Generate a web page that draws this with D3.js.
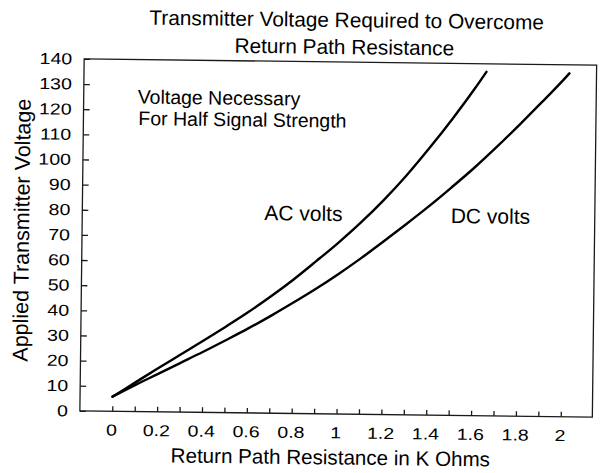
<!DOCTYPE html>
<html><head><meta charset="utf-8">
<script src="https://cdn.jsdelivr.net/npm/d3@7/dist/d3.min.js"></script>
<style>html,body{margin:0;padding:0;background:#fff;} svg{display:block}</style>
</head><body><svg id="c" width="602" height="473"></svg>
<script>
// ---------- data ----------
const titleLines = ["Transmitter Voltage Required to Overcome", "Return Path Resistance"];
const xTitle = "Return Path Resistance in K Ohms";
const yTitle = "Applied Transmitter Voltage";
const noteLines = ["Voltage Necessary", "For Half Signal Strength"];
const seriesLabels = ["AC volts", "DC volts"];

const xTickValues = [0,0.1,0.2,0.3,0.4,0.5,0.6,0.7,0.8,0.9,1.0,1.1,1.2,1.3,1.4,1.5,1.6,1.7,1.8,1.9,2.0];
const xTickLabels = ["0","","0.2","","0.4","","0.6","","0.8","","1","","1.2","","1.4","","1.6","","1.8","","2"];
const yTickValues = [0,10,20,30,40,50,60,70,80,90,100,110,120,130,140];

const acX = [0,0.1,0.2,0.3,0.4,0.5,0.6,0.7,0.8,0.9,1.0,1.1,1.2,1.3,1.4,1.5,1.6,1.65];
const acY = [5.8,11.5,17.2,22.8,28.4,34.1,40.0,46.4,53.2,60.6,68.2,76.4,85.4,95.3,106.2,117.8,130.2,136.8];
const dcX = [0,0.1,0.2,0.3,0.4,0.5,0.6,0.7,0.8,0.9,1.0,1.1,1.2,1.3,1.4,1.5,1.6,1.7,1.8,1.9,2.0,2.02];
const dcY = [5.8,10.5,15.0,19.5,24.0,28.7,33.5,38.6,44.0,49.6,55.6,62.0,68.8,75.8,83.0,90.6,98.5,107.0,115.9,125.1,134.6,136.6];

// ---------- layout ----------
const FONT = "'Liberation Sans', Arial, Helvetica, sans-serif";
const frame = {left: 82, right: 594.5, top: 62, bottom: 414};
const svg = d3.select("#c");
const root = svg.append("g").attr("transform", "rotate(0.7,338,238)");

const x = d3.scaleLinear().domain([0, 2]).range([114.4, 562.9]);
const y = d3.scaleLinear().domain([0, 140]).range([frame.bottom, frame.top]);

function stretch(sel, k) {
  sel.each(function() {
    const len = this.getComputedTextLength();
    if (len > 0) d3.select(this).attr("textLength", len * k).attr("lengthAdjust", "spacingAndGlyphs");
  });
}

// frame
root.append("rect")
  .attr("x", frame.left).attr("y", frame.top)
  .attr("width", frame.right - frame.left).attr("height", frame.bottom - frame.top)
  .attr("fill", "none").attr("stroke", "#1a1a1a").attr("stroke-width", 1.3);

// y axis
const gy = root.append("g").attr("transform", `translate(${frame.left},0)`)
  .call(d3.axisLeft(y).tickValues(yTickValues).tickSize(-6).tickPadding(12).tickFormat(d3.format("d")));
gy.select(".domain").remove();
gy.selectAll(".tick line").attr("stroke", "#1a1a1a").attr("stroke-width", 1.3);
gy.selectAll(".tick text").attr("font-family", FONT).attr("font-size", 16).attr("fill", "#000").call(stretch, 1.22);

// x axis
const gx = root.append("g").attr("transform", `translate(0,${frame.bottom})`)
  .call(d3.axisBottom(x).tickValues(xTickValues).tickSize(-5).tickPadding(13)
    .tickFormat((d, i) => xTickLabels[i]));
gx.select(".domain").remove();
gx.selectAll(".tick line").attr("stroke", "#1a1a1a").attr("stroke-width", 1.3);
gx.selectAll(".tick text").attr("font-family", FONT).attr("font-size", 16).attr("fill", "#000").attr("dx", -1).call(stretch, 1.22);

// curves
const line = d3.line().x(d => x(d[0])).y(d => y(d[1])).curve(d3.curveMonotoneX);
const acData = acX.map((v, i) => [v, acY[i]]);
const dcData = dcX.map((v, i) => [v, dcY[i]]);
[acData, dcData].forEach(d => {
  root.append("path").datum(d).attr("d", line)
    .attr("fill", "none").attr("stroke", "#000").attr("stroke-width", 2.4)
    .attr("stroke-linecap", "round");
});

// titles
root.append("text").attr("x", 344).attr("y", 27).attr("text-anchor", "middle")
  .attr("font-family", FONT).attr("font-size", 20.8).text(titleLines[0]);
root.append("text").attr("x", 342).attr("y", 54).attr("text-anchor", "middle")
  .attr("font-family", FONT).attr("font-size", 20.8).text(titleLines[1]);

root.append("text").attr("x", 333).attr("y", 464.5).attr("text-anchor", "middle")
  .attr("font-family", FONT).attr("font-size", 20.6).text(xTitle);

root.append("text").attr("transform", "translate(29,234) rotate(-90)").attr("text-anchor", "middle")
  .attr("font-family", FONT).attr("font-size", 21.5).text(yTitle);

// note
root.append("text").attr("x", 136).attr("y", 106)
  .attr("font-family", FONT).attr("font-size", 19.5).text(noteLines[0]);
root.append("text").attr("x", 137).attr("y", 127.5)
  .attr("font-family", FONT).attr("font-size", 19.5).text(noteLines[1]);

// series labels
root.append("text").attr("x", 264).attr("y", 221)
  .attr("font-family", FONT).attr("font-size", 21).text(seriesLabels[0]);
root.append("text").attr("x", 450.5).attr("y", 221.6)
  .attr("font-family", FONT).attr("font-size", 21).text(seriesLabels[1]);
</script></body></html>
